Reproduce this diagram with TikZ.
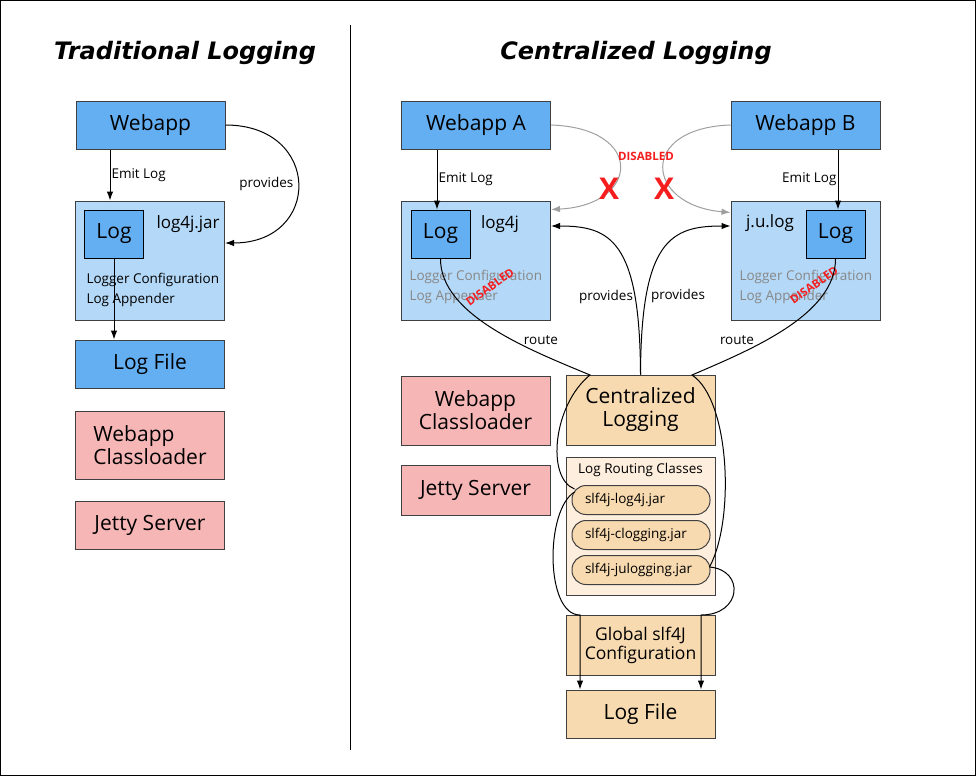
\documentclass[tikz,border=0pt]{standalone}
\usepackage{fontspec}
\setmainfont{Open Sans}
\newfontfamily\titlefont{DejaVu Sans}
\usetikzlibrary{arrows.meta}

\definecolor{appblue}{RGB}{100,174,242}
\definecolor{jarblue}{RGB}{180,216,247}
\definecolor{srvpink}{RGB}{247,182,182}
\definecolor{slforange}{RGB}{248,218,176}
\definecolor{slflight}{RGB}{253,238,221}
\definecolor{offgrey}{RGB}{135,135,135}
\definecolor{offred}{RGB}{245,30,30}

\tikzset{
  box/.style={draw=black!75, minimum width=149pt, minimum height=48pt, inner sep=0pt,
    align=center, font=\fontsize{21}{23}\selectfont},
  app/.style={box, fill=appblue},
  jar/.style={draw=black!75, fill=jarblue, minimum width=149pt, minimum height=119pt, inner sep=0pt},
  logbox/.style={draw=black, fill=appblue, minimum width=59pt, minimum height=48pt, inner sep=0pt,
    font=\fontsize{21}{23}\selectfont},
  srv/.style={box, fill=srvpink},
  slf/.style={box, fill=slforange},
  pill/.style={draw=black!75, fill=slforange, rounded corners=14pt, minimum height=29pt,
    text width=112pt, inner xsep=13pt, inner ysep=0pt, align=left, font=\fontsize{13.5}{15}\selectfont},
  lbl/.style={font=\fontsize{13.5}{15}\selectfont, inner sep=1pt},
  note/.style={font=\fontsize{13.5}{20}\selectfont, align=left, anchor=west, inner sep=0pt},
  off/.style={text=offred, font=\fontsize{11.5}{13}\selectfont\bfseries, inner sep=0pt},
  title/.style={font=\titlefont\fontsize{24}{27}\selectfont\bfseries\itshape}
}

\begin{document}
\begin{tikzpicture}[x=1pt, y=-1pt, line width=1pt, >={Latex[length=9pt,width=6.5pt]}]
  \useasboundingbox (0,0) rectangle (976,776);
  \draw (0.5,0.5) rectangle (975.5,775.5);
  \draw (350,25) -- (350,750);

  \node[title] (tradT) at (185,53) {Traditional Logging};
  \node[title] (centT) at (636,53) {Centralized Logging};

  % traditional
  \node[app] (webL) at (150.5,125) {Webapp};
  \node[jar] (jarL) at (150,260.5) {};
  \node[logbox] (logL) at (114,234) {Log};
  \node[anchor=west, inner sep=0pt, font=\fontsize{17}{19}\selectfont] (jarLname) at (156,224) {log4j.jar};
  \node[note] (cfgL) at (86,290) {Logger Configuration\\Log Appender};
  \node[app] (fileL) at (150,364) {Log File};
  \node[srv, align=left, minimum height=68pt] (clL) at (150,445) {Webapp\\Classloader};
  \node[srv] (jettyL) at (150,525) {Jetty Server};

  \draw[->] (webL.south -| 110,0) -- node[right, lbl] {Emit Log} (jarL.north -| 110,0);
  \draw[->] (webL.east) .. controls (322,125) and (322,243) .. ([yshift=17.5pt]jarL.east)
    node[pos=0.5, left, lbl, xshift=-3pt] {provides};
  \draw[->] (logL.south) -- (fileL.north -| logL.south);

  % centralized
  \node[app] (webA) at (476,125) {Webapp A};
  \node[app] (webB) at (805.5,125) {Webapp B};
  \node[jar] (jarA) at (476,260.5) {};
  \node[logbox] (logA) at (440.5,234) {Log};
  \node[inner sep=0pt, font=\fontsize{17}{19}\selectfont] (jarAname) at (500,224) {log4j};
  \node[note, text=offgrey] (cfgA) at (409,287) {Logger Configuration\\Log Appender};
  \node[jar] (jarB) at (805.5,260.5) {};
  \node[logbox] (logB) at (835.5,234) {Log};
  \node[inner sep=0pt, font=\fontsize{17}{19}\selectfont] (jarBname) at (770,223) {j.u.log};
  \node[note, text=offgrey] (cfgB) at (739,287) {Logger Configuration\\Log Appender};

  \node[srv] (clR) at (475.5,410.5) [minimum height=69pt] {Webapp\\Classloader};
  \node[srv] (jettyR) at (475.5,490) [minimum height=50pt] {Jetty Server};

  \node[slf, minimum height=70pt] (cent) at (640.5,410) {Centralized\\Logging};
  \node[draw=black!75, fill=slflight, minimum width=149pt, minimum height=138pt, inner sep=0pt] (route) at (640.5,526) {};
  \node[lbl] (routeT) at (640.5,470) {Log Routing Classes};
  \node[pill] (slfA) at (641,500) {slf4j-log4j.jar};
  \node[pill] (slfC) at (641,535) {slf4j-clogging.jar};
  \node[pill] (slfB) at (641,570) {slf4j-julogging.jar};
  \node[slf, minimum height=60pt, font=\fontsize{17.5}{19}\selectfont] (glob) at (640.5,645) {Global slf4J\\Configuration};
  \node[slf] (fileC) at (640.5,714) {Log File};

  \draw[->] (webA.south -| 437,0) -- node[right, lbl] {Emit Log} (logA.north -| 437,0);
  \draw[->] (webB.south -| 838,0) -- node[left, lbl] {Emit Log} (logB.north -| 838,0);

  % disabled routes
  \draw[->, draw=offgrey!80] (webA.east) .. controls (645,128) and (640,205) .. ([yshift=51pt]jarA.east);
  \draw[->, draw=offgrey!80] (webB.west) .. controls (638,128) and (645,205) .. ([yshift=48pt]jarB.west);
  \node[off] (offT) at (646,156) {DISABLED};
  \node[off, font=\fontsize{30}{32}\selectfont\bfseries] (xA) at (609,189) {X};
  \node[off, font=\fontsize{30}{32}\selectfont\bfseries] (xB) at (664,189) {X};
  \node[off, rotate=35] (offA) at (490,287) {DISABLED};
  \node[off, rotate=35] (offB) at (814,285) {DISABLED};

  % provides
  \draw[->] (cent.north) .. controls (640,240) and (610,226) .. ([yshift=34.5pt]jarA.east);
  \draw[->] (cent.north) .. controls (641,240) and (671,226) .. ([yshift=34.5pt]jarB.west);
  \node[lbl] (provA) at (606,297) {provides};
  \node[lbl] (provB) at (678,296) {provides};

  % routes
  \coordinate (inA) at (590,375);
  \coordinate (inB) at (692,375);
  \coordinate (outA) at (580,615);
  \coordinate (outB) at (701,615);
  \draw (logA.south) .. controls (440,315) and (530,350) .. (inA)
    .. controls (553,405) and (546,478) .. ([xshift=3pt,yshift=11pt]slfA.west);
  \draw (logB.south) .. controls (836,315) and (750,350) .. (inB)
    .. controls (730,400) and (735,520) .. ([xshift=-1pt,yshift=3pt]slfB.east);
  \node[lbl] (routeA) at (541,340) {route};
  \node[lbl] (routeB) at (737,340) {route};
  \draw[->] ([xshift=3pt,yshift=8pt]slfA.west) .. controls (545,510) and (545,615) .. (outA) -- (outA |- fileC.north);
  \draw[->] ([xshift=-1pt,yshift=3pt]slfB.east) .. controls (745,570) and (742,615) .. (outB) -- (outB |- fileC.north);
\end{tikzpicture}
\end{document}
